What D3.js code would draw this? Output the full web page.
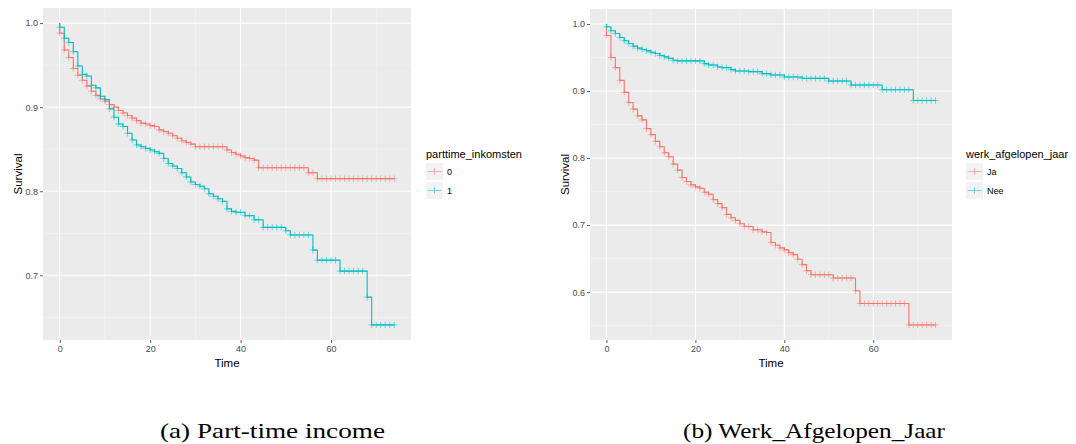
<!DOCTYPE html>
<html>
<head>
<meta charset="utf-8">
<script src="https://cdnjs.cloudflare.com/ajax/libs/d3/7.8.5/d3.min.js"></script>
<style>
body { margin: 0; background: #fff; }
svg { display: block; font-family: "Liberation Sans", Arial, sans-serif; }
.caption { font-family: "Liberation Serif", "Times New Roman", Times, serif; font-size: 21px; }
</style>
</head>
<body>
<svg width="1076" height="444"></svg>
<script>
// ---- data ----
var months = [0,1,2,3,4,5,6,7,8,9,10,11,12,13,14,15,16,17,18,19,20,21,22,23,24,
  25,26,27,28,29,30,31,32,33,34,35,36,37,38,39,40,41,42,43,44,45,46,47,48,49,
  50,51,52,53,54,55,56,57,58,59,60,61,62,63,64,65,66,67,68,69,70,71,72,73,74];
var endTime = 74;

// (a) parttime_inkomsten = 0
var ptTime0 = [0,1,2,3,4,5,6,7,8,9,10,11,12,13,14,15,16,17,18,19,20,21,22,23,24,25,26,27,28,29,30,
  37,38,39,40,41,42,43,44,55,57];
var ptSurv0 = [0.988,0.968,0.959,0.946,0.938,0.932,0.925,0.919,0.914,0.910,0.907,0.903,0.900,0.896,0.893,
  0.890,0.887,0.884,0.881,0.880,0.878,0.877,0.873,0.871,0.869,0.866,0.863,0.860,0.858,0.856,0.853,
  0.849,0.846,0.844,0.842,0.840,0.839,0.837,0.828,0.822,0.815];
// (a) parttime_inkomsten = 1
var ptTime1 = [0,1,2,3,4,5,6,7,8,9,10,11,12,13,14,15,16,17,18,19,20,21,22,23,24,25,26,27,28,29,30,
  31,32,33,34,35,36,37,38,39,41,43,45,50,51,56,57,62,68,69];
var ptSurv1 = [0.995,0.982,0.977,0.966,0.949,0.939,0.937,0.926,0.923,0.913,0.909,0.898,0.888,0.880,0.877,
  0.869,0.861,0.855,0.853,0.851,0.849,0.847,0.845,0.839,0.833,0.830,0.827,0.822,0.817,0.811,0.808,
  0.806,0.803,0.797,0.794,0.791,0.788,0.779,0.776,0.775,0.771,0.766,0.757,0.753,0.748,0.730,0.718,
  0.705,0.674,0.641];

// (b) werk_afgelopen_jaar = Ja
var wjTimeJa = [0,1,2,3,4,5,6,7,8,9,10,11,12,13,14,15,16,17,18,19,20,21,22,23,24,25,26,27,28,29,30,31,
  33,35,36,37,38,39,40,41,42,43,44,45,46,51,56,57,68];
var wjSurvJa = [0.983,0.950,0.935,0.916,0.898,0.883,0.873,0.863,0.857,0.844,0.835,0.825,0.817,0.808,0.802,
  0.791,0.782,0.771,0.765,0.760,0.757,0.755,0.749,0.746,0.738,0.732,0.726,0.716,0.711,0.707,0.702,0.698,
  0.693,0.690,0.689,0.674,0.670,0.666,0.663,0.659,0.656,0.649,0.641,0.632,0.626,0.621,0.602,0.583,0.551];
// (b) werk_afgelopen_jaar = Nee
var wjTimeNee = [0,1,2,3,4,5,6,7,8,9,10,11,12,13,14,15,16,22,23,25,26,28,29,32,35,37,40,44,50,55,62,69];
var wjSurvNee = [0.996,0.990,0.986,0.980,0.975,0.971,0.967,0.964,0.962,0.960,0.958,0.956,0.953,0.951,0.949,
  0.946,0.945,0.941,0.939,0.936,0.935,0.932,0.930,0.929,0.926,0.924,0.921,0.919,0.915,0.909,0.902,0.886];

var yTicks1 = [0.7, 0.8, 0.9, 1.0];
var yTicks2 = [0.6, 0.7, 0.8, 0.9, 1.0];
var xTicks = [0, 20, 40, 60];
var colors = ["#F8766D", "#00BFC4"];

var svg = d3.select("svg");

function drawPanel(cfg) {
  var allSurv = d3.merge(cfg.series.map(function(s) { return s.surv; })).concat([1]);
  var sExt = d3.extent(allSurv), sPad = (sExt[1] - sExt[0]) * 0.05;
  var tPad = endTime * 0.05;

  var x = d3.scaleLinear().domain([-tPad, endTime + tPad]).range([cfg.left, cfg.right]);
  var y = d3.scaleLinear().domain([sExt[0] - sPad, sExt[1] + sPad]).range([cfg.bottom, cfg.top]);

  var g = svg.append("g");

  g.append("rect")
    .attr("x", cfg.left).attr("y", cfg.top)
    .attr("width", cfg.right - cfg.left).attr("height", cfg.bottom - cfg.top)
    .attr("fill", "#EBEBEB");

  // minor grid
  var xMinor = xTicks.map(function(d) { return d + 10; }).concat([-10]).filter(function(d) {
    return d >= x.domain()[0] && d <= x.domain()[1];
  });
  var yMinor = cfg.yTicks.map(function(d) { return d - 0.05; }).concat([d3.max(cfg.yTicks) + 0.05]).filter(function(d) {
    return d >= y.domain()[0] && d <= y.domain()[1];
  });
  g.selectAll(".xminor").data(xMinor).enter().append("line")
    .attr("x1", x).attr("x2", x).attr("y1", cfg.top).attr("y2", cfg.bottom)
    .attr("stroke", "#F7F7F7").attr("stroke-width", 0.6);
  g.selectAll(".yminor").data(yMinor).enter().append("line")
    .attr("y1", y).attr("y2", y).attr("x1", cfg.left).attr("x2", cfg.right)
    .attr("stroke", "#F7F7F7").attr("stroke-width", 0.6);
  // major grid
  g.selectAll(".xmajor").data(xTicks).enter().append("line")
    .attr("x1", x).attr("x2", x).attr("y1", cfg.top).attr("y2", cfg.bottom)
    .attr("stroke", "#fff").attr("stroke-width", 1.1);
  g.selectAll(".ymajor").data(cfg.yTicks).enter().append("line")
    .attr("y1", y).attr("y2", y).attr("x1", cfg.left).attr("x2", cfg.right)
    .attr("stroke", "#fff").attr("stroke-width", 1.1);

  // axes
  var ax = g.append("g").attr("transform", "translate(0," + cfg.bottom + ")")
    .call(d3.axisBottom(x).tickValues(xTicks).tickSize(3).tickPadding(3));
  var ay = g.append("g").attr("transform", "translate(" + cfg.left + ",0)")
    .call(d3.axisLeft(y).tickValues(cfg.yTicks).tickSize(3).tickPadding(2).tickFormat(d3.format(".1f")));
  [ax, ay].forEach(function(a) {
    a.select(".domain").remove();
    a.selectAll(".tick line").attr("stroke", "#333").attr("stroke-width", 0.8);
    a.selectAll(".tick text").attr("fill", "#4D4D4D").style("font-size", "9px")
      .style("font-family", "Liberation Sans, Arial, sans-serif");
  });

  g.append("text")
    .attr("x", (cfg.left + cfg.right) / 2).attr("y", cfg.bottom + 27)
    .attr("text-anchor", "middle").style("font-size", "11.5px").attr("fill", "#000")
    .text("Time");
  g.append("text")
    .attr("transform", "translate(" + (cfg.left - 21.5) + "," + ((cfg.top + cfg.bottom) / 2) + ") rotate(-90)")
    .attr("text-anchor", "middle").style("font-size", "11.5px").attr("fill", "#000")
    .text("Survival");

  // curves
  var line = d3.line()
    .x(function(d) { return x(d[0]); })
    .y(function(d) { return y(d[1]); })
    .curve(d3.curveStepAfter);

  cfg.series.forEach(function(s, i) {
    var pts = [[0, 1]].concat(s.time.map(function(t, j) { return [t, s.surv[j]]; }));
    pts.push([endTime, s.surv[s.surv.length - 1]]);

    g.append("path").datum(pts)
      .attr("d", line)
      .attr("fill", "none")
      .attr("stroke", colors[i])
      .attr("stroke-width", 1.1);

    var bis = d3.bisector(function(d) { return d; }).right;
    var marks = months.filter(function(t) { return t <= endTime; }).map(function(t) {
      var k = bis(s.time, t) - 1;
      return [t, k < 0 ? 1 : s.surv[k]];
    });
    var cg = g.append("g").attr("stroke", colors[i]).attr("stroke-opacity", 0.55).attr("stroke-width", 1);
    cg.selectAll("path").data(marks).enter().append("path")
      .attr("d", function(d) {
        var cx = x(d[0]), cy = y(d[1]);
        return "M" + (cx - 3.2) + "," + cy + "H" + (cx + 3.2) + "M" + cx + "," + (cy - 3.2) + "V" + (cy + 3.2);
      });
  });

  // legend
  var lg = g.append("g").attr("transform", "translate(" + cfg.legendX + ",0)");
  lg.append("text").attr("x", 0).attr("y", 157.5)
    .style("font-size", "11px").attr("fill", "#000").text(cfg.legendTitle);
  cfg.labels.forEach(function(lab, i) {
    var ky = 163 + i * 19;
    lg.append("rect").attr("x", 0).attr("y", ky).attr("width", 17).attr("height", 17)
      .attr("fill", "#F2F2F2");
    lg.append("path")
      .attr("d", "M1.5," + (ky + 8.5) + "H15.5M8.5," + (ky + 5.3) + "V" + (ky + 11.7))
      .attr("stroke", colors[i]).attr("stroke-opacity", 0.55).attr("stroke-width", 1.1);
    lg.append("text").attr("x", 21).attr("y", ky + 8.5).attr("dy", "0.35em")
      .style("font-size", "9px").attr("fill", "#000").text(lab);
  });
}

drawPanel({
  left: 43, right: 411, top: 8, bottom: 340,
  yTicks: yTicks1,
  series: [{ time: ptTime0, surv: ptSurv0 }, { time: ptTime1, surv: ptSurv1 }],
  legendX: 426, legendTitle: "parttime_inkomsten", labels: ["0", "1"]
});

drawPanel({
  left: 590, right: 952, top: 9, bottom: 340,
  yTicks: yTicks2,
  series: [{ time: wjTimeJa, surv: wjSurvJa }, { time: wjTimeNee, surv: wjSurvNee }],
  legendX: 966, legendTitle: "werk_afgelopen_jaar", labels: ["Ja", "Nee"]
});

// captions
var captions = [
  { text: "(a) Part-time income", x: 160, w: 225 },
  { text: "(b) Werk_Afgelopen_Jaar", x: 683, w: 262 }
];
svg.selectAll(".caption").data(captions).enter().append("text")
  .attr("class", "caption")
  .attr("x", function(d) { return d.x; })
  .attr("y", 438)
  .attr("textLength", function(d) { return d.w; })
  .attr("lengthAdjust", "spacingAndGlyphs")
  .attr("fill", "#000")
  .text(function(d) { return d.text; });
</script>
</body>
</html>
